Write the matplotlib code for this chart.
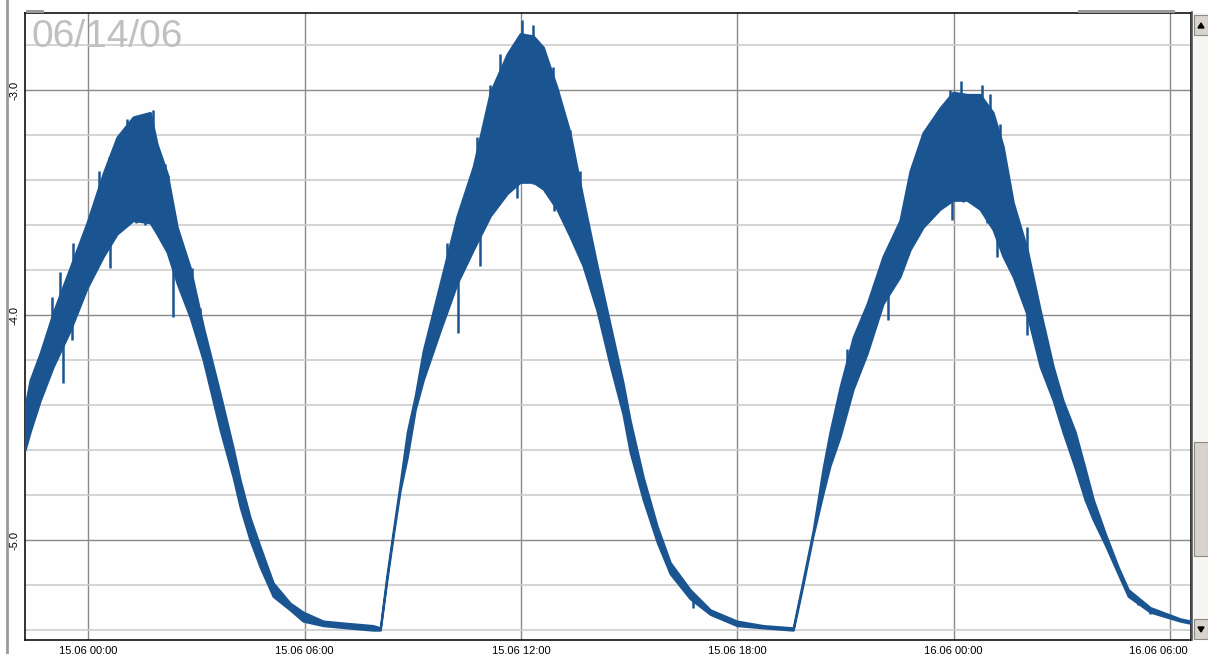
import numpy as np
import matplotlib
matplotlib.use("Agg")
import matplotlib.pyplot as plt
import matplotlib.transforms as mtransforms
from matplotlib.patches import Rectangle, Polygon
from matplotlib.lines import Line2D

# ---- data: hours since 15.06 00:00, lower / upper envelope of the noisy signal
hours = [-1.75, -1.61, -1.33, -0.97, -0.50, -0.03, 0.42, 0.80, 1.25, 1.72, 1.91,
         2.19, 2.47, 2.83, 3.19, 3.66, 4.02, 4.21, 4.49, 4.77, 5.13, 5.60, 5.96,
         6.52, 7.18, 7.90, 8.10, 8.29, 8.46, 8.65, 8.85, 9.07, 9.29, 9.76, 10.23,
         10.68, 11.15, 11.62, 11.98, 12.34, 12.62, 13.00, 13.36, 13.72, 14.11,
         14.47, 14.83, 15.03, 15.39, 15.78, 16.14, 16.69, 17.25, 17.99, 18.72,
         19.55, 19.82, 20.10, 20.38, 20.57, 20.85, 21.21, 21.60, 22.04, 22.51,
         22.79, 23.15, 23.62, 23.98, 24.37, 24.73, 25.09, 25.37, 25.65, 26.04,
         26.40, 26.76, 27.03, 27.37, 27.64, 27.87, 28.20, 28.56, 28.84, 29.45,
         30.28, 30.58]
upper = [-4.41, -4.29, -4.17, -3.99, -3.79, -3.59, -3.37, -3.21, -3.12, -3.10, -3.24,
         -3.37, -3.61, -3.79, -4.05, -4.35, -4.59, -4.73, -4.90, -5.03, -5.19, -5.28, -5.32,
         -5.36, -5.37, -5.38, -5.39, -5.15, -4.96, -4.75, -4.52, -4.36, -4.16, -3.86, -3.56,
         -3.34, -3.01, -2.84, -2.75, -2.76, -2.81, -2.99, -3.19, -3.48, -3.78,
         -4.04, -4.30, -4.47, -4.72, -4.94, -5.10, -5.22, -5.31, -5.36, -5.38,
         -5.39, -5.18, -4.96, -4.68, -4.52, -4.32, -4.10, -3.95, -3.74, -3.58,
         -3.36, -3.19, -3.08, -3.01, -3.02, -3.02, -3.10, -3.25, -3.50, -3.71,
         -3.98, -4.23, -4.38, -4.52, -4.68, -4.82, -4.97, -5.12, -5.22, -5.30,
         -5.35, -5.36]
lower = [-4.60, -4.52, -4.38, -4.23, -4.07, -3.88, -3.74, -3.64, -3.58, -3.59, -3.64,
         -3.72, -3.86, -4.01, -4.20, -4.51, -4.72, -4.85, -5.00, -5.12, -5.25, -5.31, -5.36,
         -5.38, -5.39, -5.40, -5.40, -5.17, -4.98, -4.78, -4.63, -4.42, -4.29, -4.07, -3.86,
         -3.71, -3.56, -3.46, -3.41, -3.41, -3.44, -3.53, -3.65, -3.78, -3.98,
         -4.22, -4.44, -4.61, -4.82, -5.01, -5.15, -5.26, -5.33, -5.38, -5.39,
         -5.40, -5.20, -4.98, -4.79, -4.67, -4.54, -4.33, -4.17, -3.95, -3.83,
         -3.71, -3.61, -3.53, -3.49, -3.49, -3.53, -3.62, -3.74, -3.83, -4.00,
         -4.23, -4.38, -4.52, -4.68, -4.82, -4.91, -5.02, -5.15, -5.25, -5.32,
         -5.36, -5.37]

# isolated spikes (hour, value)
spike_hours = [-1.01, -0.78, -0.42, 0.30, 0.58, 1.08, 1.80, 2.13, 2.22, 2.88, 3.11,
               -0.69, -0.45, 0.61, 1.33, 1.58, 2.35,
               9.94, 10.78, 11.15, 11.42, 12.02, 12.34, 12.89, 13.36, 13.64,
               10.25, 10.87, 11.89, 12.34, 12.92, 16.77,
               21.04, 22.21, 22.84, 23.21, 23.90, 24.19, 24.78, 25.01, 25.29, 26.03,
               22.18, 23.95, 24.26, 24.92, 25.20, 26.03, 29.11, 29.44]
spike_values = [-3.92, -3.81, -3.68, -3.36, -3.30, -3.13, -3.09, -3.33, -3.38, -3.79, -3.97,
                -4.30, -4.11, -3.79, -3.59, -3.60, -4.01,
                -3.68, -3.21, -2.98, -2.84, -2.69, -2.71, -2.90, -3.18, -3.36,
                -4.08, -3.78, -3.48, -3.42, -3.54, -5.30,
                -4.15, -3.73, -3.34, -3.19, -3.00, -2.96, -2.98, -3.02, -3.15, -3.61,
                -4.02, -3.58, -3.50, -3.59, -3.74, -4.09, -5.29, -5.33]

xtick_hours = [0, 6, 12, 18, 24, 30]
xtick_labels = ["15.06 00:00", "15.06 06:00", "15.06 12:00", "15.06 18:00",
                "16.06 00:00", "16.06 06:00"]
ytick_major = [-5.0, -4.0, -3.0]
ytick_minor = [-5.4, -5.2, -4.8, -4.6, -4.4, -4.2, -3.8, -3.6, -3.4, -3.2, -2.8]
date_label = "06/14/06"

blue = "#1A5591"
plt.rcParams["font.family"] = ["Liberation Sans", "DejaVu Sans"]

W, H = 1208, 654
fig = plt.figure(figsize=(W / 100, H / 100), dpi=100)
fig.patch.set_facecolor("white")
ax = fig.add_axes([25 / W, (H - 640) / H, (1191 - 25) / W, (640 - 13) / H])
ax.set_facecolor("#FEFEFE")

ax.set_xlim(-1.75, 30.58)
ax.set_ylim(-5.444, -2.658)

ax.set_xticks(xtick_hours)
ax.set_xticklabels(xtick_labels, fontsize=8)
ax.set_yticks(ytick_major)
ax.set_yticklabels([f"{v:.1f}" for v in ytick_major], fontsize=8, rotation=90, va="center")
ax.set_yticks(ytick_minor, minor=True)
ax.tick_params(axis="both", which="both", length=0)
ax.tick_params(axis="x", pad=4)
ax.tick_params(axis="y", pad=4)

# last x label is pulled left so it fits before the window edge
last = ax.get_xticklabels()[-1]
last.set_transform(last.get_transform() +
                   mtransforms.ScaledTranslation(-12 / 100, 0, fig.dpi_scale_trans))

ax.grid(which="minor", axis="y", color="#CDCDCD", lw=1.2)
ax.grid(which="major", axis="y", color="#8A8A8A", lw=1.0)
ax.grid(which="major", axis="x", color="#8A8A8A", lw=1.0)
ax.set_axisbelow(True)

for s in ax.spines.values():
    s.set_color("#111111")
    s.set_linewidth(1.2)

t = np.array(hours)
lo = np.array(lower)
hi = np.array(upper)
ax.fill_between(t, lo, hi, color=blue, lw=1.6, edgecolor=blue, zorder=3)

sh = np.array(spike_hours)
sv = np.array(spike_values)
mid = np.interp(sh, t, (lo + hi) / 2)
ax.vlines(sh, mid, sv, color=blue, lw=1.8, zorder=3)

ax.text(0.006, 0.990, date_label, transform=ax.transAxes, fontsize=28,
        color="#C0C0C0", va="top", ha="left", zorder=4)

# window decorations: left rule and right scrollbar
fig.add_artist(Line2D([7 / W, 7 / W], [0, 1], color="#9A9A9A", lw=2.0))
fig.add_artist(Rectangle((1193 / W, (H - 640) / H), 15 / W, 627 / H, transform=fig.transFigure,
                         facecolor="#F6F5F1", edgecolor="none"))
fig.add_artist(Line2D([1192 / W, 1192 / W], [(H - 640) / H, (H - 12) / H],
                      color="#555555", lw=1.2))
fig.add_artist(Rectangle((1194 / W, (H - 35) / H), 14 / W, 20 / H, transform=fig.transFigure,
                         facecolor="#D8D4CC", edgecolor="#8A8A8A", lw=0.8))
fig.add_artist(Rectangle((1194 / W, (H - 639) / H), 14 / W, 20 / H, transform=fig.transFigure,
                         facecolor="#D8D4CC", edgecolor="#8A8A8A", lw=0.8))
fig.add_artist(Rectangle((1194 / W, (H - 556) / H), 14 / W, 114 / H, transform=fig.transFigure,
                         facecolor="#D8D4CC", edgecolor="#8A8A8A", lw=0.8))
fig.add_artist(Polygon([[1198 / W, (H - 28) / H], [1204 / W, (H - 28) / H], [1201 / W, (H - 23) / H]],
                       closed=True, transform=fig.transFigure, color="black"))
fig.add_artist(Polygon([[1198 / W, (H - 627) / H], [1204 / W, (H - 627) / H], [1201 / W, (H - 632) / H]],
                       closed=True, transform=fig.transFigure, color="black"))
fig.add_artist(Rectangle((1078 / W, (H - 13) / H), 97 / W, 3 / H, transform=fig.transFigure,
                         facecolor="#9A9A9A", edgecolor="none"))
fig.add_artist(Rectangle((26 / W, (H - 13) / H), 18 / W, 3 / H, transform=fig.transFigure,
                         facecolor="#9A9A9A", edgecolor="none"))

fig.savefig("out.png", dpi=100, facecolor="white")
